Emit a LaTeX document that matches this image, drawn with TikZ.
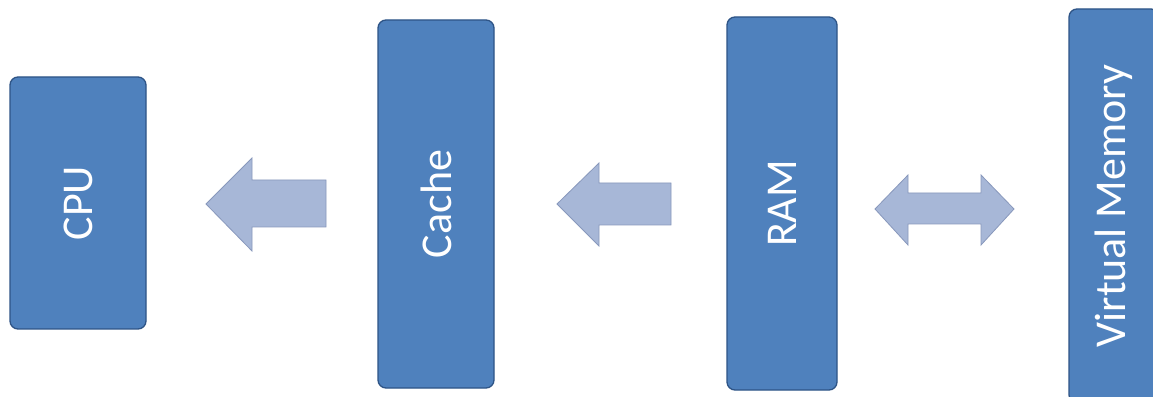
\documentclass[tikz,border=0pt]{standalone}
\usepackage{fontspec}
\setmainfont{Carlito}
\definecolor{boxfill}{HTML}{4F81BD}
\definecolor{boxline}{HTML}{2E5486}
\definecolor{arrfill}{HTML}{A7B7D7}
\definecolor{arrline}{HTML}{8898BC}
\begin{document}
\begin{tikzpicture}[x=1pt,y=1pt,
  membox/.style={draw=boxline,fill=boxfill,line width=1.3pt,rounded corners=8pt,
    rotate=90,inner sep=0pt,text=white,font=\fontsize{44}{50}\selectfont},
  blockarrow/.style={draw=arrline,fill=arrfill,line width=0.8pt,line join=miter}]
\useasboundingbox (0,0) rectangle (1153,396);
\clip (0,0) rectangle (1153,396);
\fill[white] (0,0) rectangle (1153,396);
\node[membox,minimum width=252pt,minimum height=136pt] (cpu) at (78,193) {CPU};
\node[membox,minimum width=368pt,minimum height=116pt] (cache) at (436,192) {Cache};
\node[membox,minimum width=373pt,minimum height=110pt] (ram) at (782,192.5) {RAM};
\node[membox,minimum width=394pt,minimum height=90pt] (vm) at (1114,190) {Virtual Memory};
% Cache -> CPU
\draw[blockarrow] (206,192) -- (252,238) -- (252,216) -- (326,216) -- (326,169) -- (252,169) -- (252,145) -- cycle;
% RAM -> Cache
\draw[blockarrow] (557,192) -- (599,233) -- (599,213) -- (671,213) -- (671,171) -- (599,171) -- (599,150) -- cycle;
% RAM <-> Virtual Memory
\draw[blockarrow] (875,187) -- (908,221) -- (908,203) -- (981,203) -- (981,221) -- (1014,187) -- (981,151) -- (981,172) -- (908,172) -- (908,151) -- cycle;
\end{tikzpicture}
\end{document}
